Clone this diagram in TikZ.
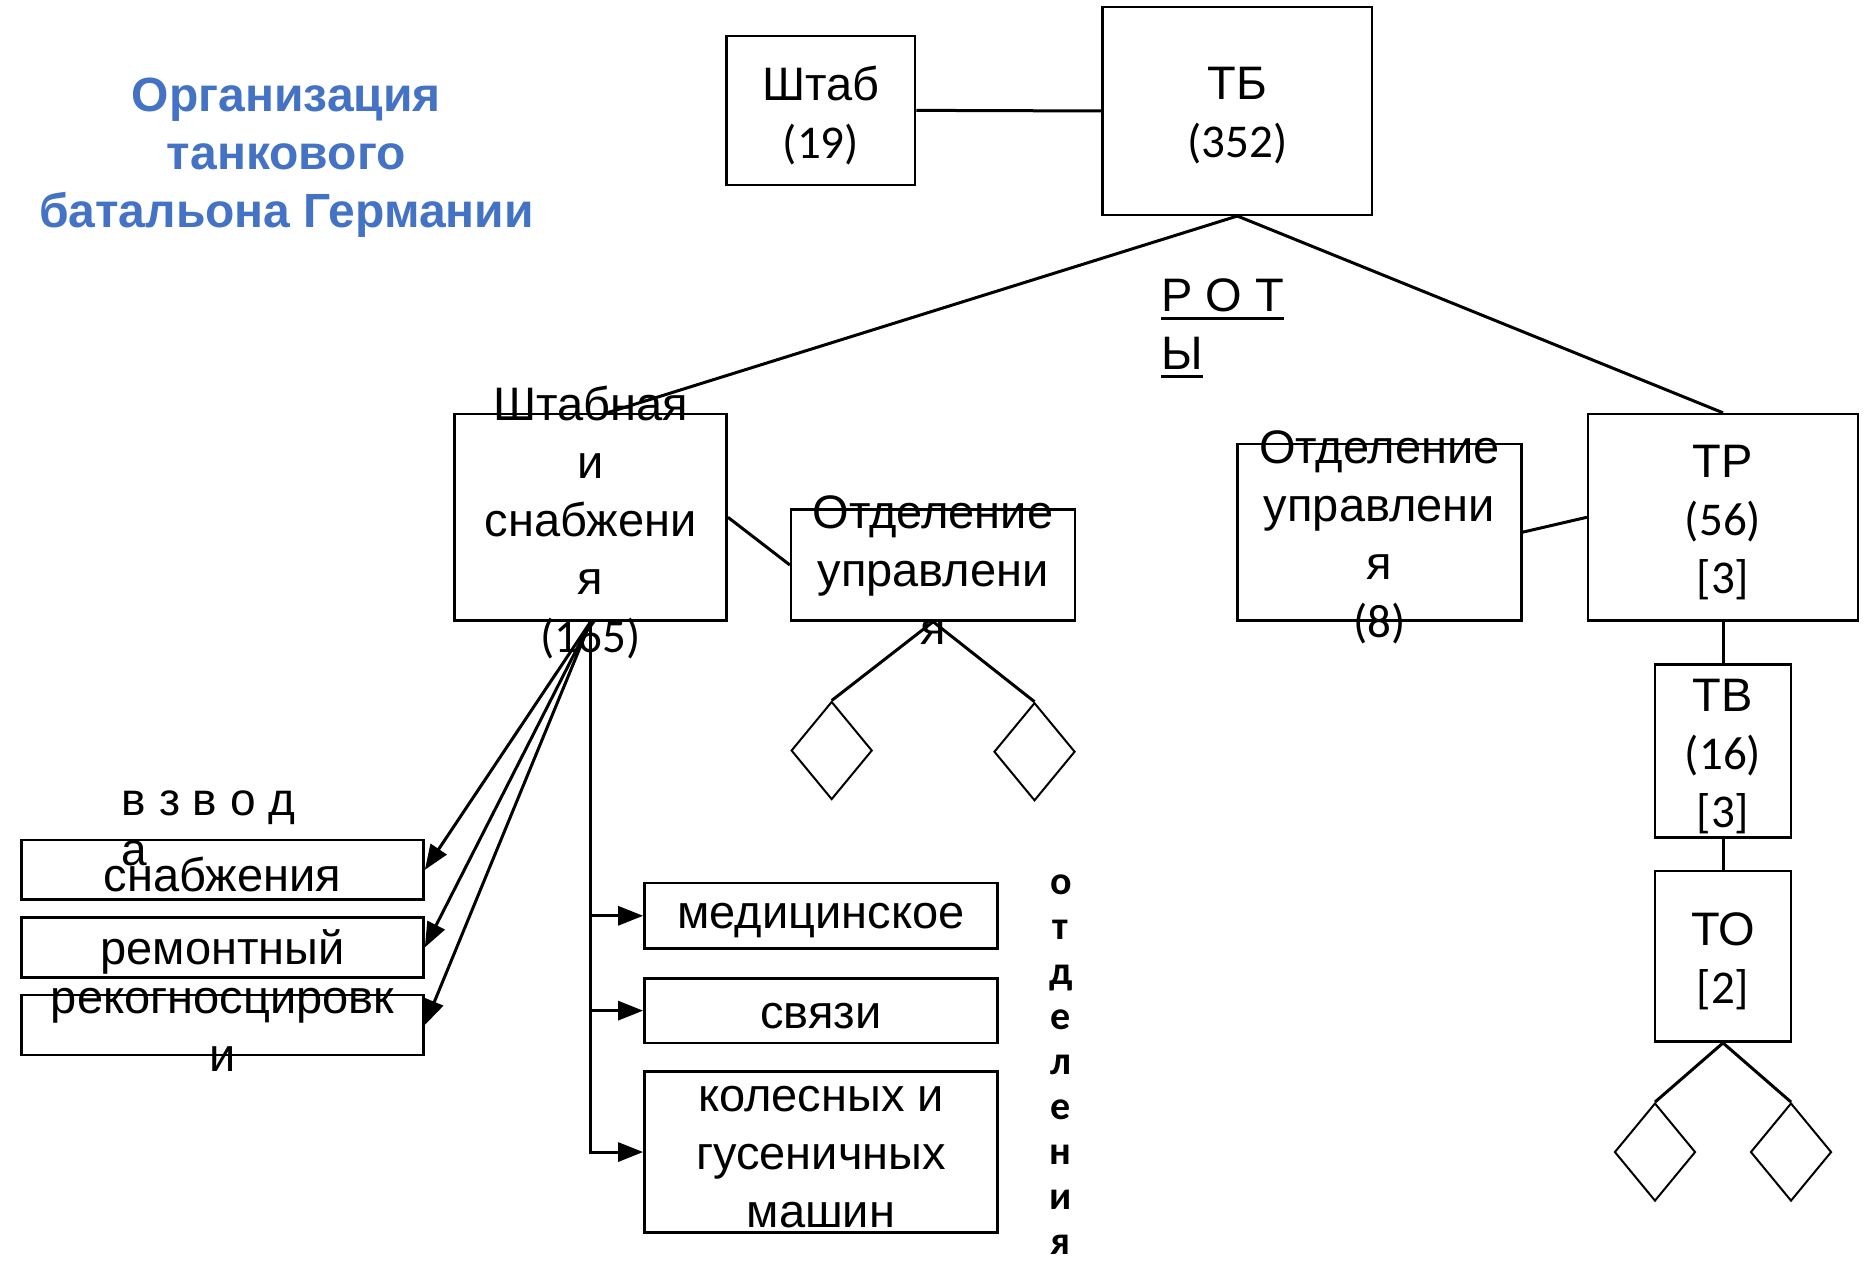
\documentclass[tikz,border=0pt]{standalone}
\usepackage{fontspec}
\setmainfont{Liberation Sans}
\newfontfamily\numf{Carlito}
\usetikzlibrary{shapes.geometric,arrows.meta,calc}
\definecolor{titleblue}{HTML}{4472C4}
\newcommand\myul[1]{\setbox0\hbox{#1}\rlap{\rule[-9pt]{\wd0}{3pt}}\box0}
\begin{document}
\begin{tikzpicture}[x=1.1932pt,y=-1.1932pt,
  box/.style={draw, line width=2.5pt, inner sep=0pt},
  bx/.style 2 args={box, minimum width=#1*1.1932pt, minimum height=#2*1.1932pt},
  txt/.style={align=center, font=\fontsize{47}{58}\selectfont, inner sep=0pt, yshift=-5pt},
  conn/.style={line width=3pt},
  arr/.style={line width=3pt, -{Triangle[length=25pt,width=19pt]}},
  dia/.style={draw, diamond, line width=2pt, inner sep=0pt, minimum width=81pt, minimum height=98pt},
  ttl/.style={align=center, text=titleblue, font=\bfseries\fontsize{48}{57.6}\selectfont, inner sep=0pt, yshift=-5pt}]
\useasboundingbox (0,0) rectangle (1567.2,1056.8);
% boxes
\node[bx={158}{125}] (shtab) at (688,92.5) {};
\node[bx={226}{174}] (tb) at (1037,93) {};
\node[bx={228}{173}] (shn) at (495,433.5) {};
\node[bx={238}{93}] (otdl) at (782,473.5) {};
\node[bx={238}{148}] (otdr) at (1156,446) {};
\node[bx={226}{173}] (tr) at (1444,433.5) {};
\node[bx={114}{145}] (tv) at (1444,629.5) {};
\node[bx={114}{143}] (to) at (1444,801.5) {};
\node[bx={337}{50}] (snab) at (186.5,729) {};
\node[bx={337}{50}] (rem) at (186.5,794) {};
\node[bx={337}{50}] (rek) at (186.5,859) {};
\node[bx={296}{55}] (med) at (688,767.5) {};
\node[bx={296}{54}] (svz) at (688,847) {};
\node[bx={296}{135}] (kol) at (688,965.5) {};
% diamonds
\node[dia] (d1) at (697,629) {};
\node[dia] (d2) at (867,630) {};
\node[dia] (d3) at (1387,965.5) {};
\node[dia] (d4) at (1501,965.5) {};
% connectors
\draw[conn] (shtab.east) -- (tb.west);
\draw[conn] (tb.south) -- ([xshift=16.7pt]shn.north);
\draw[conn] (tb.south) -- (tr.north);
\draw[conn] (shn.east) -- (otdl.west);
\draw[conn] (otdl.south) -- (d1.north);
\draw[conn] (otdl.south) -- (d2.north);
\draw[conn] (otdr.east) -- (tr.west);
\draw[conn] (tr.south) -- (tv.north);
\draw[conn] (tv.south) -- (to.north);
\draw[conn] (to.south) -- (d3.north);
\draw[conn] (to.south) -- (d4.north);
\draw[arr] (shn.south) -- (snab.east);
\draw[arr] (shn.south) -- (rem.east);
\draw[arr] (shn.south) -- (rek.east);
\draw[arr] (shn.south) |- (med.west);
\draw[arr] (shn.south) |- (svz.west);
\draw[arr] (shn.south) |- (kol.west);
% texts
\node[ttl] (title) at (240,128) {Организация\\танкового\\батальона Германии};
\node[txt] (shtabt) at (shtab) {Штаб\\{\numf (19)}};
\node[txt] (tbt) at (tb) {ТБ\\{\numf (352)}};
\node[txt] (shnt) at (shn) {Штабная\\и\\снабжени\\я\\{\numf (165)}};
\node[txt] (otdlt) at (otdl) {Отделение\\управлени\\я};
\node[txt] (otdrt) at (otdr) {Отделение\\управлени\\я\\{\numf (8)}};
\node[txt] (trt) at (tr) {ТР\\{\numf (56)}\\{\numf [3]}};
\node[txt] (tvt) at (tv) {ТВ\\{\numf (16)}\\{\numf [3]}};
\node[txt] (tot) at (to) {ТО\\{\numf [2]}};
\node[txt] (snabt) at (snab) {снабжения};
\node[txt] (remt) at (rem) {ремонтный};
\node[txt] (rekt) at (rek) {рекогносцировк\\и};
\node[txt] (medt) at (med) {медицинское};
\node[txt] (svzt) at (svz) {связи};
\node[txt] (kolt) at (kol) {колесных и\\гусеничных\\машин};
\node[txt, align=left, anchor=west] (roty) at (973,271) {\myul{Р О Т}\\\myul{Ы}};
\node[txt, align=left, anchor=west, font=\fontsize{46}{50}\selectfont] (vzv) at (102,690) {в з в о д\\а};
\node[align=center, inner sep=0pt, font=\numf\bfseries\fontsize{40}{45}\selectfont] (otdv) at (889,892) {о\\т\\д\\е\\л\\е\\н\\и\\я};
\end{tikzpicture}
\end{document}
